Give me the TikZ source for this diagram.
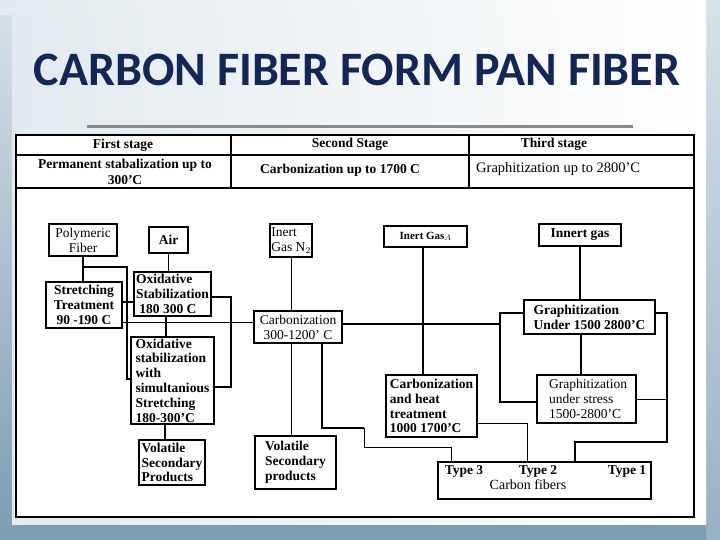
\documentclass[tikz,border=0pt]{standalone}
\usepackage{fontspec}
\setmainfont{Liberation Serif}
\newfontfamily\titlefont{Carlito}
\usetikzlibrary{calc}
\definecolor{bgblue}{RGB}{124,157,178}
\definecolor{bglight}{RGB}{214,226,233}
\definecolor{paneltop}{RGB}{226,234,239}
\definecolor{titleblue}{RGB}{18,38,88}
\definecolor{rulegray}{RGB}{138,138,138}
\begin{document}
\begin{tikzpicture}[x=1pt,y=-1pt,
  box/.style={draw, line width=1.6pt, fill=white, inner sep=1pt, align=center,
    font=\fontsize{13.5}{14.8}\selectfont\bfseries},
  lbox/.style={box, align=left},
  rbox/.style={box, font=\fontsize{13.5}{14.8}\selectfont},
  thk/.style={line width=1.6pt},
  thn/.style={line width=0.8pt},
  hdr/.style={font=\fontsize{13.5}{15.5}\selectfont\bfseries, inner sep=0pt, align=center},
  tlabel/.style={font=\fontsize{13.5}{15}\selectfont\bfseries, inner sep=0pt}]
\useasboundingbox (0,0) rectangle (720,540);
% background
\fill[bgblue] (0,0) rectangle (720,540);
\shade[top color=bglight, bottom color=bgblue] (0,0) rectangle (12,540);
\shade[top color=bglight, bottom color=bgblue!70!bglight] (706,0) rectangle (720,540);
\shade[left color=paneltop, right color=white] (0,0) rectangle (706,15);
\shade[left color=paneltop, right color=white] (12,15) rectangle (706,524);
% title
\node[font=\titlefont\bfseries\fontsize{48}{52}\selectfont, text=titleblue, inner sep=0pt] (title) at (357,70) {CARBON FIBER FORM PAN FIBER};
\draw[rulegray, line width=3pt] (87,127) -- (633,127);
% table
\fill[white] (16,135) rectangle (694,517);
\draw[line width=1.8pt] (16,135) rectangle (694,517);
\draw[line width=1.4pt] (16,155) -- (694,155);
\draw[line width=2.4pt] (16,188) -- (694,188);
\draw[line width=1.4pt] (231,135) -- (231,188);
\draw[line width=1.4pt] (469,135) -- (469,188);
\node[hdr] (h1) at (123,145) {First stage};
\node[hdr] (h2) at (350,144) {Second Stage};
\node[hdr] (h3) at (554,144) {Third stage};
\node[hdr] (r1) at (125,172) {Permanent stabalization up to\\300’C};
\node[hdr] (r2) at (340,170) {Carbonization up to 1700 C};
\node[hdr, font=\fontsize{14.5}{15.5}\selectfont, anchor=west] (r3) at (476,169) {Graphitization up to 2800’C};
% boxes
\node[rbox, minimum width=68pt, minimum height=32pt] (poly) at (83,240) {Polymeric\\Fiber};
\node[box, minimum width=39pt, minimum height=26pt] (air) at (168.5,240) {Air};
\node[rbox, align=left, minimum width=42pt, minimum height=33pt] (inertN) at (291,240.5) {Inert\\Gas N$_2$};
\node[box, minimum width=76pt, minimum height=46pt] (stretch) at (84,305) {Stretching\\Treatment\\90 -190 C};
\node[lbox, minimum width=77pt, minimum height=44pt] (oxst) at (172.5,294) {Oxidative\\Stabilization\\\ 180 300 C};
\node[rbox, minimum width=88pt, minimum height=32pt] (carb) at (298,327) {Carbonization\\300-1200’ C};
\node[lbox, minimum width=83pt, minimum height=87pt, inner sep=0pt] (oxss) at (172.5,380.5) {Oxidative\\stabilization\\with\\simultanious\\Stretching\\180-300’C};
\node[lbox, minimum width=66pt, minimum height=45pt] (vol1) at (172,462.5) {Volatile\\Secondary\\Products};
\node[lbox, minimum width=81pt, minimum height=53pt] (vol2) at (295.5,462.5) {Volatile\\Secondary\\products};
\node[box, font=\fontsize{11}{12}\selectfont\bfseries, minimum width=83pt, minimum height=21pt] (inertA) at (425.5,236.5) {Inert Gas$_{A}$};
\node[box, minimum width=82pt, minimum height=22pt] (innert) at (580,235) {Innert gas};
\node[lbox, minimum width=131pt, minimum height=34pt] (graph) at (589.5,317) {Graphitization\\Under 1500 2800’C};
\node[lbox, minimum width=91pt, minimum height=62pt] (carbh) at (431.5,406) {Carbonization\\and heat\\treatment\\1000 1700’C};
\node[rbox, align=left, minimum width=99pt, minimum height=48pt] (graphs) at (586.5,399) {\ Graphitization\\\ under stress\\\ 1500-2800’C};
\node[draw, line width=1.6pt, fill=white, minimum width=213pt, minimum height=37pt] (types) at (544.5,480.5) {};
\node[tlabel] (t3) at (464,471) {Type 3};
\node[tlabel] (t2) at (538,471) {Type 2};
\node[tlabel] (t1) at (627,471) {Type 1};
\node[font=\fontsize{14}{15}\selectfont, inner sep=0pt] (cf) at (528,485) {Carbon fibers};
% connectors
\draw[thk] (poly.south) -- (poly.south |- stretch.north);
\draw[thk] (poly.south |- 0,267) -- (127,267) -- (127,379) -- (oxss.west |- 0,379);
\draw[thk] (stretch.east |- 0,302) -- (oxst.west |- 0,302);
\draw[thn] (stretch.east |- 0,322) -- (carb.west |- 0,322);
\draw[thn] (air.south) -- (air.south |- oxst.north);
\draw[thk] (oxst.east |- 0,297) -- (231,297) -- (231,387) -- (oxss.east |- 0,387);
\draw[thk] (oxst.south -| 166,0) -- (oxss.north -| 166,0);
\draw[thk] (oxss.south -| 165,0) -- (vol1.north -| 165,0);
\draw[thn] (inertN.south -| 291,0) -- (carb.north -| 291,0);
\draw[thn] (carb.south -| 291,0) -- (vol2.north -| 291,0);
\draw[thk] (carb.east |- 0,324) -- (500,324);
\draw[thk] (graph.west |- 0,313) -- (500,313) -- (500,402) -- (graphs.west |- 0,402);
\draw[thk] (inertA.south -| 423,0) -- (carbh.north -| 423,0);
\draw[thk] (carb.south -| 322,0) -- (322,428) -- (364,428);
\draw[thn] (364,428) -- (364,447) -- (451,447) -- (types.north -| 451,0);
\draw[thn] (carbh.east |- 0,423) -- (527,423) -- (types.north -| 527,0);
\draw[thk] (graph.south -| 581,0) -- (graphs.north -| 581,0);
\draw[thk] (graph.east |- 0,313) -- (667,313) -- (667,442) -- (575,442) -- (types.north -| 575,0);
\draw[thn] (graphs.east |- 0,399) -- (667,399);
\draw[thk] (innert.south -| 580,0) -- (graph.north -| 580,0);
\end{tikzpicture}
\end{document}
